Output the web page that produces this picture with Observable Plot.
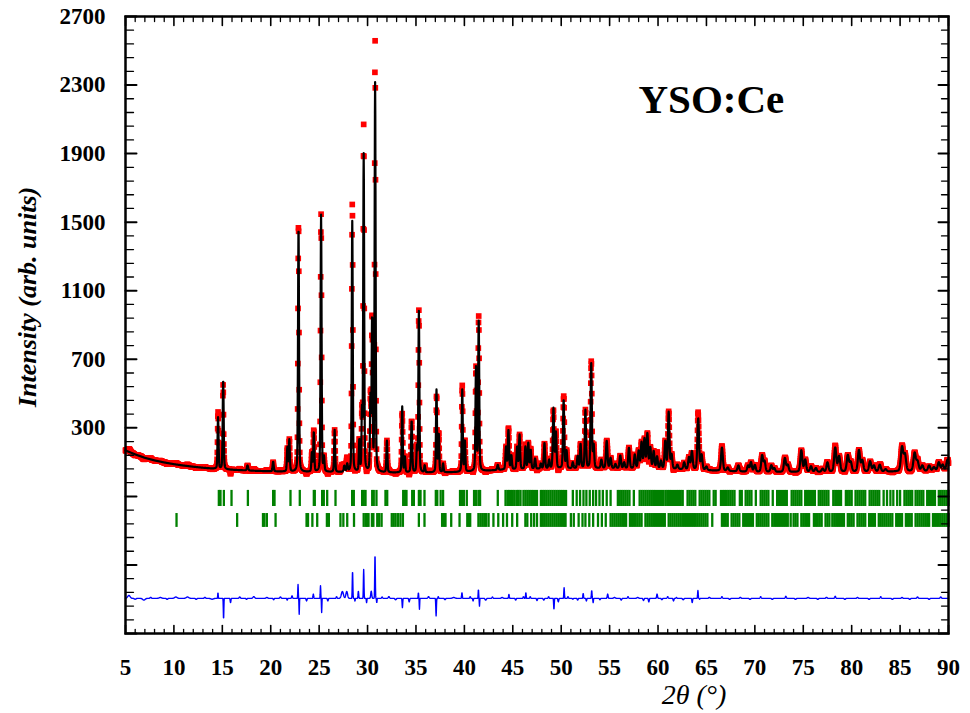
<!DOCTYPE html>
<html>
<head>
<meta charset="utf-8">
<script src="https://cdn.jsdelivr.net/npm/d3@7"></script>
<script src="https://cdn.jsdelivr.net/npm/@observablehq/plot@0.6"></script>
<style>
  html, body { margin: 0; padding: 0; background: #fff; }
</style>
</head>
<body>
<div id="chart"></div>
<script>
// ---------- data ----------
// Reflections of the fitted pattern: [2θ, height above background, FWHM]
const peaks = [
 [14.56,300,0.12],[15.09,520,0.12],[17.6,30,0.15],[20.25,57,0.13],[21.72,140,0.12],[21.92,185,0.12],
 [22.87,1430,0.12],[24.25,110,0.12],[24.45,230,0.12],[25.2,1500,0.12],[25.5,80,0.12],[26.6,245,0.12],
 [27.6,35,0.15],[27.9,45,0.15],[28.42,1465,0.12],[29.15,180,0.12],[29.42,330,0.1],[29.6,1850,0.12],
 [30.3,420,0.12],[30.47,880,0.12],[30.78,2265,0.12],[32.0,185,0.12],[33.58,385,0.12],[33.85,90,0.12],
 [34.55,300,0.14],[35.1,140,0.12],[35.3,940,0.12],[35.9,40,0.12],[37.12,480,0.12],[37.35,220,0.12],
 [37.8,50,0.12],[39.78,480,0.12],[40.05,180,0.12],[41.2,600,0.13],[41.48,870,0.13],[43.45,30,0.15],
 [44.3,130,0.14],[44.55,230,0.14],[44.85,80,0.14],[45.45,130,0.14],[45.7,200,0.14],[46.3,130,0.14],
 [46.6,150,0.14],[46.85,110,0.14],[47.3,60,0.15],[47.9,30,0.15],[48.27,150,0.15],[48.75,50,0.15],
 [49.2,350,0.15],[49.45,210,0.15],[50.25,400,0.15],[50.55,100,0.15],[51.2,35,0.15],[51.7,70,0.15],
 [52.0,140,0.15],[52.5,340,0.15],[53.1,610,0.15],[53.35,130,0.15],[54.15,50,0.18],[54.7,160,0.18],
 [55.1,60,0.18],[55.6,25,0.18],[56.1,75,0.18],[56.5,35,0.18],[57.0,120,0.18],[57.6,80,0.18],
 [58.0,100,0.18],[58.3,150,0.18],[58.6,170,0.18],[58.9,200,0.18],[59.2,120,0.18],[59.55,100,0.18],
 [59.9,70,0.18],[60.3,45,0.18],[60.75,160,0.18],[61.1,330,0.18],[61.4,80,0.18],[62.0,25,0.2],
 [62.7,40,0.2],[63.2,70,0.2],[63.5,105,0.2],[64.15,300,0.2],[64.5,85,0.2],[65.0,20,0.2],
 [66.6,135,0.22],[67.2,20,0.22],[68.3,35,0.22],[69.3,35,0.22],[69.6,55,0.22],[70.0,40,0.22],
 [70.75,95,0.22],[71.0,60,0.22],[71.7,38,0.22],[72.0,22,0.22],[73.1,80,0.24],[73.4,40,0.24],
 [74.8,125,0.24],[75.2,70,0.24],[75.8,32,0.24],[76.3,22,0.24],[77.0,18,0.24],[77.5,55,0.24],
 [78.3,140,0.26],[78.7,90,0.26],[79.6,95,0.26],[79.9,55,0.26],[80.75,125,0.26],[81.1,65,0.26],
 [81.9,60,0.26],[82.3,35,0.26],[82.9,40,0.26],[83.5,14,0.26],[85.2,140,0.28],[85.5,95,0.28],
 [86.5,105,0.28],[86.8,55,0.28],[87.3,32,0.28],[88.0,32,0.28],[88.5,22,0.28],[89.0,50,0.28],
 [89.4,35,0.28],[89.9,65,0.28]
];
// Background points [2θ, intensity]
const background = [
 [5,168],[6,145],[7,125],[8,110],[9,98],[10,88],[11,80],[12,73],[13,67],[14,62],[16,55],[18,50],
 [20,46],[24,42],[28,40],[32,38],[36,38],[40,42],[44,55],[50,62],[56,62],[62,58],[66,50],[70,42],
 [80,42],[90,48]
];
const residuals = [
 [5.35,17,0.3],[6.0,-5,0.2],[6.9,-10,0.3],[7.6,6,0.15],[8.6,5,0.3],[9.3,-6,0.15],[10.2,8,0.3],[11.4,8,0.3],
 [12.3,-6,0.15],[13.2,6,0.15],[13.95,-5,0.3],
 [14.55,33,0.06],[15.13,-122,0.06],[15.85,-25,0.08],[16.8,8,0.15],[17.5,-6,0.12],[18.25,10,0.2],[19.6,5,0.2],
 [20.3,-8,0.1],[21.0,8,0.15],[21.7,-10,0.08],[22.2,15,0.1],
 [22.82,81,0.06],[22.94,-93,0.05],[23.7,-15,0.1],[24.4,25,0.08],[25.14,74,0.06],[25.26,-83,0.05],[25.9,-15,0.1],
 [26.8,10,0.1],[27.4,40,0.25],[27.85,40,0.2],[28.45,158,0.07],[28.7,-15,0.06],[29.05,42,0.08],[29.6,168,0.07],
 [29.9,-25,0.06],[30.38,42,0.12],[30.77,255,0.07],[30.95,-25,0.06],[31.5,8,0.12],[32.2,10,0.15],[32.9,-8,0.15],
 [33.6,-54,0.07],[34.3,-20,0.1],[35.25,33,0.06],[35.36,-64,0.05],[36.3,10,0.15],[37.08,-102,0.07],[37.3,10,0.08],
 [38.0,-8,0.12],[38.9,5,0.3],[39.75,33,0.08],[40.6,10,0.1],[40.9,-15,0.08],[41.45,52,0.06],[41.56,-45,0.05],
 [42.2,-10,0.15],[42.9,8,0.12],[43.9,5,0.2],[44.6,23,0.08],[45.3,-10,0.1],[46.1,10,0.1],[46.35,33,0.07],
 [46.8,10,0.1],[47.5,-12,0.1],[48.2,-10,0.12],[48.7,10,0.1],[49.25,-64,0.07],[49.7,-20,0.1],
 [50.3,62,0.07],[50.7,10,0.1],[51.2,-5,0.1],[51.7,-10,0.1],[52.27,29,0.08],[52.6,-15,0.08],[53.15,46,0.07],
 [53.3,-25,0.06],[54.0,-8,0.1],[54.8,25,0.1],[55.5,5,0.2],[56.2,-10,0.12],[56.9,10,0.12],[57.9,5,0.2],
 [58.5,-12,0.12],[59.05,-20,0.1],[59.9,25,0.1],[60.4,-8,0.12],[61.0,10,0.12],[61.6,-15,0.1],[61.9,5,0.1],
 [62.6,-8,0.15],[63.53,-25,0.08],[64.12,46,0.07],[64.3,-5,0.06],[65.3,6,0.15],[66.6,10,0.12],[67.4,-6,0.15],
 [68.5,6,0.15],[69.5,-6,0.15],[70.6,10,0.12],[71.8,-6,0.15],[73.2,12,0.12],[74.2,-6,0.15],[75.5,5,0.2],
 [76.5,-6,0.15],[77.4,6,0.15],[78.3,12,0.12],[79.3,-6,0.15],[80.6,5,0.15],[81.8,-6,0.15],[83.0,10,0.12],
 [84.2,-6,0.15],[85.2,5,0.15],[86.0,-6,0.15],[86.8,8,0.15],[88.0,-6,0.15],[89.2,8,0.15]
];
// Bragg reflection positions, phase 1 (upper row) and phase 2 (lower row)
const phase1 = [14.64,14.81,15.16,15.95,17.64,20.25,20.39,22.04,23.0,24.45,24.55,25.31,25.48,25.83,26.69,28.41,28.58,
 29.44,29.61,29.79,30.48,30.64,30.92,31.85,32.03,33.68,33.85,34.02,34.61,34.78,35.3,35.47,35.88,37.05,37.2,37.55,37.8,
 39.55,39.75,39.95,40.25,41.0,41.2,41.45,41.62,43.45,
 44.25,44.45,44.6,44.8,45.0,45.2,45.45,45.6,45.8,46.1,46.3,46.5,46.7,46.9,47.1,47.3,47.5,
 47.9,48.1,48.3,48.5,48.7,48.9,49.1,49.3,49.5,49.7,49.9,50.1,50.3,50.5,
 51.2,51.6,51.95,52.3,52.6,52.95,53.3,53.6,53.95,54.3,54.7,55.1,
 55.85,56.05,56.25,56.45,56.65,56.85,57.05,57.5,58.1,58.3,58.5,58.7,58.9,59.1,59.3,59.5,59.7,59.9,60.1,60.3,60.5,
 60.75,60.95,61.15,61.35,61.55,61.75,61.95,62.15,62.35,62.55,63.05,63.25,63.45,63.65,63.85,64.3,64.5,64.7,64.9,
 65.1,65.3,65.75,65.95,66.5,66.7,66.9,67.1,67.3,67.5,67.7,67.9,68.45,68.65,69.05,69.25,69.45,69.65,70.1,70.6,70.8,
 71.0,71.2,71.4,71.85,72.3,72.5,72.7,72.9,73.1,73.3,73.8,74.0,74.2,74.4,74.6,74.8,75.2,75.4,75.6,75.8,76.0,76.2,
 76.6,76.8,77.0,77.2,77.4,77.6,78.1,78.3,78.5,78.7,78.9,79.4,79.6,79.8,80.0,80.4,80.6,80.8,81.0,81.2,81.4,81.85,
 82.05,82.25,82.45,82.65,82.85,83.3,83.65,84.0,84.3,84.7,85.0,85.45,85.65,85.85,86.05,86.25,86.6,86.8,87.0,87.2,
 87.4,87.8,88.0,88.2,88.4,88.6,89.0,89.2,89.4,89.6,89.8,90.0];
const phase2 = [10.27,16.53,19.2,19.35,19.6,20.5,23.7,23.85,24.3,24.8,25.8,26.0,27.2,27.5,27.9,28.6,29.6,29.8,29.95,
 30.1,30.45,30.6,31.0,31.2,31.45,32.5,32.7,32.9,33.15,33.4,33.65,35.3,35.88,37.7,37.9,38.05,38.64,39.5,40.3,40.45,
 40.6,41.45,41.65,41.85,42.05,42.25,42.5,43.0,43.5,44.0,44.4,44.94,45.45,46.3,46.5,46.9,47.2,47.5,47.9,48.1,48.3,
 48.5,48.7,48.9,49.1,49.3,49.5,49.7,49.9,50.1,50.3,50.45,51.0,51.3,51.8,52.2,52.5,52.9,53.3,53.8,54.2,54.6,
 55.1,55.3,55.5,55.7,55.9,56.1,56.3,56.5,56.7,57.1,57.3,57.5,57.7,57.9,58.1,58.3,58.7,58.9,59.1,59.3,59.5,59.7,
 59.9,60.1,60.3,60.5,60.7,61.1,61.3,61.5,61.7,61.9,62.1,62.3,62.5,62.7,62.9,63.1,63.3,63.5,63.7,63.9,64.1,64.3,
 64.5,64.7,64.9,65.1,65.6,66.6,66.8,67.0,67.2,67.6,67.8,68.0,68.2,68.4,68.8,69.0,69.2,69.4,69.6,69.8,70.2,70.4,
 70.6,70.8,71.0,71.2,71.4,71.8,72.0,72.2,72.4,72.6,72.8,73.0,73.2,73.4,73.7,74.0,74.2,74.4,74.8,75.0,75.2,75.4,
 75.6,76.1,76.3,76.5,76.7,76.9,77.3,77.5,77.7,78.0,78.2,78.4,78.6,78.8,79.0,79.2,79.6,79.8,80.0,80.2,
 80.6,80.8,81.0,81.2,81.4,81.8,82.0,82.2,82.4,82.8,83.0,83.2,83.4,83.6,83.8,84.0,84.2,84.6,84.8,85.0,85.2,85.6,
 85.8,86.0,86.2,86.6,86.8,87.0,87.2,87.4,87.6,87.8,88.0,88.4,88.6,88.8,89.0,89.2,89.4,89.6,89.8,90.0];
// Axis values
const xLabels = [5,10,15,20,25,30,35,40,45,50,55,60,65,70,75,80,85,90];
const yLabels = [300,700,1100,1500,1900,2300,2700];
const yMajor = [-900,-500,-100,300,700,1100,1500,1900,2300,2700];
const diffOffset = -695;     // baseline of the difference curve
const step = 0.02;           // 2θ step of the scan

// ---------- profile (pseudo-Voigt) ----------
const bgAt = (t) => {
  for (let i = 1; i < background.length; i++) {
    const [x0, y0] = background[i - 1], [x1, y1] = background[i];
    if (t <= x1) return y0 + (y1 - y0) * (t - x0) / (x1 - x0);
  }
  return background[background.length - 1][1];
};
const pv = (t, pos, h, w) => {
  const u = 4 * ((t - pos) / w) ** 2;
  return h * (0.3 / (1 + u) + 0.7 * Math.exp(-Math.LN2 * u));
};
const grid = d3.range(0, Math.round((90 - 5) / step) + 1).map(i => +(5 + i * step).toFixed(2));
const pattern = grid.map(t => {
  let calc = bgAt(t);
  for (const [p, h, w] of peaks) if (Math.abs(t - p) < 4) calc += pv(t, p, h, w);
  let res = 0;
  for (const [p, a, w] of residuals) res += a * Math.exp(-4 * Math.LN2 * ((t - p) / w) ** 2);
  return {t, calc, obs: calc + res, diff: diffOffset + res};
});

// ---------- chart ----------
const tickShape = {draw(ctx, l) { ctx.moveTo(0, 0); ctx.lineTo(0, -l); }};
const xMinor = d3.range(5, 91, 1).filter(v => v % 5 !== 0);
const yMinor = d3.range(-900, 2701, 80).filter(v => (v + 900) % 400 !== 0);
const vx = (vals, anchor, len, w) => Plot.vector(vals, {x: d => d, frameAnchor: anchor, length: len,
  rotate: anchor === "bottom" ? 0 : 180, anchor: "start", shape: tickShape, stroke: "black", strokeWidth: w});
const vy = (vals, anchor, len, w) => Plot.vector(vals, {y: d => d, frameAnchor: anchor, length: len,
  rotate: anchor === "left" ? 90 : -90, anchor: "start", shape: tickShape, stroke: "black", strokeWidth: w});

const chart = Plot.plot({
  width: 970,
  height: 713,
  marginLeft: 125,
  marginRight: 22,
  marginTop: 16,
  marginBottom: 80,
  style: {fontFamily: "'Liberation Serif', 'Times New Roman', serif", color: "black", background: "white"},
  x: {domain: [5, 90]},
  y: {domain: [-900, 2700]},
  marks: [
    Plot.dot(pattern, {x: "t", y: "obs", symbol: "square", r: 3.2, fill: "#ff0000"}),
    Plot.line(pattern, {x: "t", y: "calc", stroke: "black", strokeWidth: 2.2}),
    Plot.line(pattern, {x: "t", y: "diff", stroke: "#0000ff", strokeWidth: 1.4}),
    Plot.ruleX(phase1, {x: d => d, y1: -65, y2: -159, stroke: "#008000", strokeWidth: 2.3}),
    Plot.ruleX(phase2, {x: d => d, y1: -200, y2: -281, stroke: "#008000", strokeWidth: 2.3}),
    Plot.frame({stroke: "black", strokeWidth: 2.5}),
    vx(xMinor, "bottom", 4, 1.3), vx(xLabels, "bottom", 8, 1.6),
    vx(xMinor, "top", 5, 1.3), vx(xLabels, "top", 9, 1.6),
    vy(yMinor, "left", 8, 1.3), vy(yMajor, "left", 11, 2),
    vy(yMinor, "right", 7, 1.3), vy(yMajor, "right", 10, 2),
    Plot.axisX({ticks: xLabels, tickSize: 0, tickPadding: 25, label: null, fontSize: 23, fontWeight: "bold", tickFormat: d => String(d)}),
    Plot.axisY({ticks: yLabels, tickSize: 0, tickPadding: 20, label: null, fontSize: 23, fontWeight: "bold", tickFormat: d => String(d)}),
    Plot.text(["2θ (°)"], {frameAnchor: "bottom", dx: 157, dy: 62, fontSize: 28, fontStyle: "italic", textAnchor: "middle", lineAnchor: "middle"}),
    Plot.text(["Intensity (arb. units)"], {frameAnchor: "left", rotate: -90, dx: -98, dy: -28, fontSize: 26, fontStyle: "italic", fontWeight: "bold", textAnchor: "middle", lineAnchor: "middle"}),
    Plot.text(["YSO:Ce"], {frameAnchor: "top-left", dx: 513, dy: 96, lineAnchor: "bottom", textAnchor: "start", fontSize: 41, fontWeight: "bold"})
  ]
});
document.getElementById("chart").appendChild(chart);
</script>
</body>
</html>
